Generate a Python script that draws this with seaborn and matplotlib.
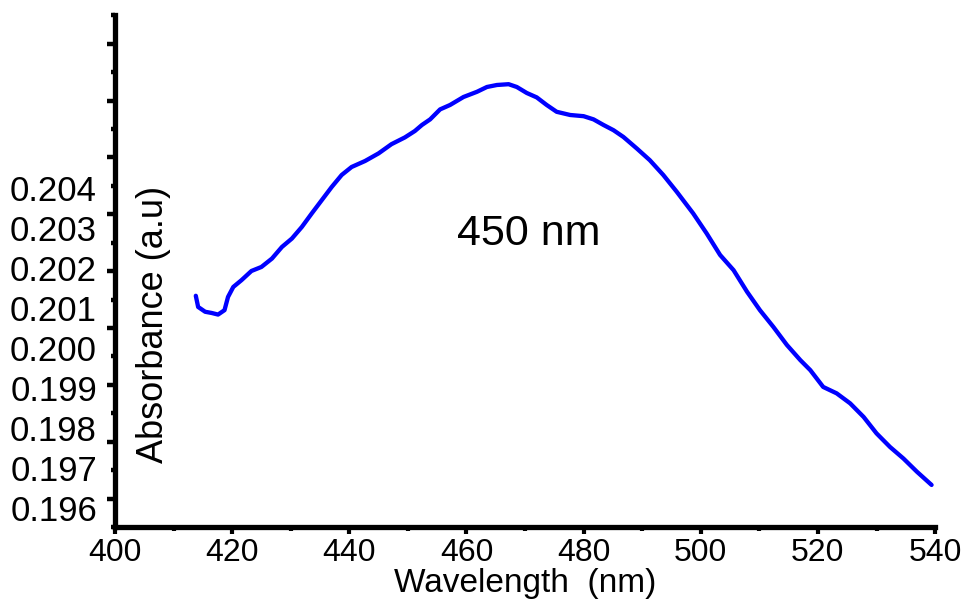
import numpy as np
import matplotlib
matplotlib.use("Agg")
import matplotlib.pyplot as plt
import seaborn as sns

# absorbance spectrum
wavelength = [413.8, 414.2, 415.4, 416.5, 417.6, 418.7, 419.3, 420.2, 421.6, 423.3,
              425.0, 426.8, 428.5, 430.2, 431.9, 433.6, 435.3, 437.0, 438.7, 440.4,
              442.7, 445.0, 447.2, 449.5, 451.2, 452.4, 453.8, 455.5, 457.2, 459.5,
              461.8, 463.5, 465.2, 467.2, 468.6, 470.3, 472.0, 473.7, 475.4, 477.7,
              480.0, 481.7, 483.4, 485.1, 486.8, 489.1, 491.3, 493.6, 495.9, 498.7,
              501.0, 503.3, 505.6, 507.9, 510.1, 512.4, 514.7, 517.0, 518.7, 520.9,
              523.2, 525.5, 527.8, 530.0, 532.3, 534.6, 536.9, 539.4]
absorbance = [0.20131, 0.20103, 0.20091, 0.20088, 0.20084, 0.20095, 0.20128, 0.20153, 0.20170, 0.20193,
              0.20203, 0.20224, 0.20253, 0.20274, 0.20303, 0.20337, 0.20370, 0.20403, 0.20433, 0.20453,
              0.20468, 0.20487, 0.20510, 0.20527, 0.20543, 0.20558, 0.20572, 0.20597, 0.20608, 0.20628,
              0.20641, 0.20653, 0.20658, 0.20660, 0.20653, 0.20638, 0.20627, 0.20608, 0.20591, 0.20583,
              0.20580, 0.20572, 0.20558, 0.20545, 0.20528, 0.20499, 0.20470, 0.20433, 0.20391, 0.20337,
              0.20287, 0.20233, 0.20195, 0.20141, 0.20095, 0.20053, 0.20008, 0.19970, 0.19945, 0.19903,
              0.19887, 0.19862, 0.19828, 0.19787, 0.19753, 0.19724, 0.19691, 0.19658]

ytick_values = [0.196, 0.197, 0.198, 0.199, 0.200, 0.201, 0.202, 0.203, 0.204]
ytick_labels = ["0.196", "0.197", "0.198", "0.199", "0.200", "0.201", "0.202", "0.203", "0.204"]
xtick_values = [400, 420, 440, 460, 480, 500, 520, 540]

sns.set_style("ticks")
plt.rcParams['font.family'] = ['Liberation Sans', 'DejaVu Sans']
plt.rcParams['text.color'] = 'black'
plt.rcParams['axes.labelcolor'] = 'black'
plt.rcParams['xtick.color'] = 'black'
plt.rcParams['ytick.color'] = 'black'

fig = plt.figure(figsize=(9.66, 6.08), dpi=100)
ax = fig.add_axes([0.119, 0.133, 0.849, 0.842])

sns.lineplot(x=wavelength, y=absorbance, color='#0000ff', linewidth=3.1,
             sort=False, estimator=None, ax=ax,
             solid_joinstyle='round', solid_capstyle='round')

ax.set_xlim(400, 540)
ax.set_ylim(0.195525, 0.208325)

for s in ['top', 'right']:
    ax.spines[s].set_visible(False)
for s in ['left', 'bottom']:
    ax.spines[s].set_linewidth(3.8)
    ax.spines[s].set_color('black')

ax.set_xticks(xtick_values)
ax.set_xticks(np.arange(410, 540, 20), minor=True)
ax.tick_params(axis='x', which='major', direction='out', length=5, width=3,
               labelsize=23, pad=3)
ax.tick_params(axis='x', which='minor', direction='out', length=3, width=3)

# labels on the left without tick marks
ax.set_yticks(ytick_values)
ax.set_yticklabels(ytick_labels)
ax.tick_params(axis='y', which='both', length=0, labelsize=25, pad=13)

# tick marks of the left axis on their own scale
ax2 = ax.twinx()
ax2.set_ylim(0, 18)
for s in ax2.spines.values():
    s.set_visible(False)
ax2.yaxis.tick_left()
ax2.set_yticks(np.arange(1, 18, 2))
ax2.set_yticks(np.arange(0, 19, 2), minor=True)
ax2.tick_params(axis='y', which='major', direction='out', length=6, width=3.2,
                labelleft=False, labelright=False)
ax2.tick_params(axis='y', which='minor', direction='out', length=3, width=3.2,
                labelleft=False, labelright=False)

ax.set_xlabel("Wavelength  (nm)", fontsize=24)
ax.xaxis.set_label_coords(0.5, -0.08)
ax.set_ylabel("Absorbance (a.u)", fontsize=26)
ax.yaxis.set_label_coords(0.068, 0.395)

ax.text(0.505, 0.572, "450 nm", transform=ax.transAxes, fontsize=31,
        ha='center', va='center')

plt.savefig("out.png", dpi=100)
